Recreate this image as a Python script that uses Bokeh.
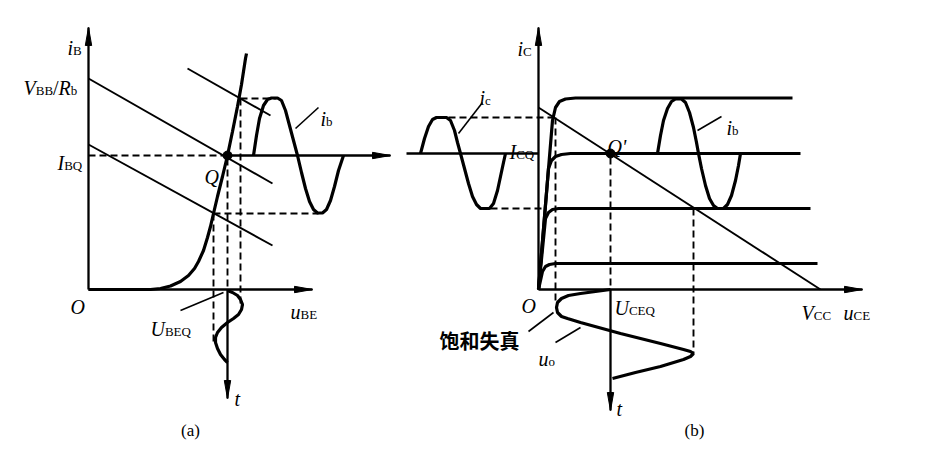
from bokeh.plotting import figure
from bokeh.models import Range1d
from bokeh.embed import file_html
from bokeh.resources import INLINE
from bokeh.core.properties import value

# ---------------- data (diagram coordinates, y grows downward) ----------------
# panel (a): input characteristic
a_axis_origin = (88, 289)
a_axis_top = 27
a_axis_right = 312
a_input_x = [88, 150, 160, 170, 180, 188, 194, 198, 203, 207, 210, 213, 217, 222, 227, 232, 237, 241, 245, 246]
a_input_y = [289, 289, 288, 285.5, 281, 275, 268, 261, 250, 237, 226, 213, 196, 176, 155, 131, 106, 84, 58, 53]
a_load_x0 = [88, 88, 187]
a_load_y0 = [78, 144, 68]
a_load_x1 = [272, 272, 270]
a_load_y1 = [183, 245, 115]
a_Q = (227, 155)
a_time_end = 390
a_t_end = 398
a_ib_x = [253, 256, 259, 263, 267, 271, 277, 281, 285, 289, 293, 297, 301, 305, 309, 313, 317, 322, 326, 330, 334, 338, 343]
a_ib_y = [155, 135, 118, 105, 99, 97.5, 97.5, 100, 110, 125, 140, 155, 172, 188, 201, 209, 212.5, 212.5, 209, 200, 186, 170, 155]
a_ube_x = [227, 232, 237, 240, 242, 241, 238, 233, 227, 221, 217, 215, 215, 217, 220, 224, 227]
a_ube_y = [290, 292, 295, 299, 304, 309, 314, 318, 322, 327, 332, 337, 342, 348, 354, 359, 362]
# dashed guides (a): horizontal (y, x0, x1), vertical (x, y0, y1)
a_hdash = [(155, 88, 224), (98, 240, 276), (213, 213, 318)]
a_vdash = [(227, 158, 289), (213, 213, 342), (240, 98, 305)]
a_leaders = [((295, 128), (318, 107)), ((180, 310), (223, 292))]

# panel (b): output characteristic
b_axis_origin = (538, 289)
b_axis_top = 27
b_axis_right = 862
b_curves_x = [
    [538, 552, 555, 559, 565, 575, 792],
    [538, 548, 551, 555, 561, 570, 800],
    [538, 545, 548, 552, 558, 810],
    [538, 542, 545, 549, 555, 817],
]
b_curves_y = [
    [289, 120, 107, 101, 98.5, 97.5, 97.5],
    [289, 168, 160, 156, 154, 153, 153],
    [289, 218, 212, 209, 208, 208],
    [289, 271, 266, 264, 263, 263],
]
b_load = ((538, 107), (820, 289))
b_Q = (610, 153)
b_icq_axis = (406, 538, 153)
b_t_end = 410
b_ic_x = [420, 424, 428, 432, 436, 446, 450, 454, 457, 460, 464, 468, 472, 476, 480, 489, 493, 497, 500, 503, 505]
b_ic_y = [153, 138, 126, 119, 117, 117, 120, 130, 142, 153, 168, 183, 196, 204, 208, 208, 203, 190, 176, 162, 153]
b_ib_x = [657, 660, 663, 667, 671, 675, 681, 685, 689, 693, 696, 698, 701, 705, 709, 713, 717, 723, 727, 731, 735, 738, 740]
b_ib_y = [153, 135, 120, 108, 101, 98.5, 98.5, 102, 112, 127, 142, 153, 168, 185, 198, 205, 208, 208, 204, 195, 180, 165, 153]
b_uo_x = [610, 595, 580, 568, 561, 557, 556, 557, 561, 567, 580, 620, 660, 683, 690, 693, 690, 683, 660, 635, 612]
b_uo_y = [289, 291, 293, 295, 298, 302, 307, 312, 316, 318, 322, 333, 343, 349, 351, 353, 356, 359, 366, 372, 378]
b_hdash = [(117, 448, 555), (208, 490, 545)]
b_vdash = [(555, 117, 303), (610, 157, 289), (693, 208, 352)]
b_leaders = [((458, 133), (482, 102)), ((697, 130), (721, 116)),
             ((528, 331), (553, 312)), ((555, 342), (580, 327))]

# labels: (x, baseline y, [(text, kind)])  kind: m = italic main, s = subscript, r = upright main
labels = [
    (67, 47, [("i", "m"), ("B", "s")]),
    (23, 87, [("V", "m"), ("BB", "s"), ("/", "r"), ("R", "m"), ("b", "s")]),
    (57, 162, [("I", "m"), ("BQ", "s")]),
    (70, 306, [("O", "m")]),
    (290, 311, [("u", "m"), ("BE", "s")]),
    (150, 328, [("U", "m"), ("BEQ", "s")]),
    (204, 176, [("Q", "m")]),
    (320, 118, [("i", "m"), ("b", "s")]),
    (234, 398, [("t", "m")]),
    (517, 48, [("i", "m"), ("C", "s")]),
    (509, 151, [("I", "m"), ("CQ", "s")]),
    (607, 146, [("Q'", "m")]),
    (521, 305, [("O", "m")]),
    (614, 307, [("U", "m"), ("CEQ", "s")]),
    (801, 312, [("V", "m"), ("CC", "s")]),
    (843, 312, [("u", "m"), ("CE", "s")]),
    (479, 97, [("i", "m"), ("c", "s")]),
    (726, 127, [("i", "m"), ("b", "s")]),
    (538, 358, [("u", "m"), ("o", "s")]),
    (616, 408, [("t", "m")]),
]
cn_label = ("饱和失真", 479, 340)
panel_labels = [("(a)", 190, 430), ("(b)", 694, 430)]

# ---------------- drawing ----------------
p = figure(width=925, height=443, x_range=Range1d(0, 925), y_range=Range1d(443, 0),
           output_backend="svg", toolbar_location=None, min_border=0,
           x_axis_location=None, y_axis_location=None)
p.grid.visible = False
p.outline_line_color = None
p.background_fill_color = "white"
p.border_fill_color = "white"

K = "black"
AX_W = 2.3
CURVE_W = 3.2
THIN_W = 1.9
DASH_W = 1.9
DASH = "7 4"


def arrow_head(x0, y0, x1, y1, length=18, half=3.2):
    dx, dy = x1 - x0, y1 - y0
    n = (dx * dx + dy * dy) ** 0.5
    ux, uy = dx / n, dy / n
    bx, by = x1 - ux * length, y1 - uy * length
    px, py = -uy, ux
    p.patch([x1, bx + px * half, bx - px * half], [y1, by + py * half, by - py * half],
            fill_color=K, line_color=K, line_width=1)


def axis(x0, y0, x1, y1, head=True):
    p.line([x0, x1], [y0, y1], line_color=K, line_width=AX_W)
    if head:
        arrow_head(x0, y0, x1, y1)


# panel (a)
ox, oy = a_axis_origin
axis(ox, oy, ox, a_axis_top)
axis(ox, oy, a_axis_right, oy)
p.line(a_input_x, a_input_y, line_color=K, line_width=CURVE_W)
p.segment(x0=a_load_x0, y0=a_load_y0, x1=a_load_x1, y1=a_load_y1, line_color=K, line_width=THIN_W)
axis(a_Q[0], a_Q[1], a_time_end, a_Q[1])
axis(a_Q[0], oy, a_Q[0], a_t_end)
for y, xa, xb in a_hdash:
    p.line([xa, xb], [y, y], line_color=K, line_width=DASH_W, line_dash=DASH)
for x, ya, yb in a_vdash:
    p.line([x, x], [ya, yb], line_color=K, line_width=DASH_W, line_dash=DASH)
p.line(a_ib_x, a_ib_y, line_color=K, line_width=CURVE_W)
p.line(a_ube_x, a_ube_y, line_color=K, line_width=CURVE_W)
for (xa, ya), (xb, yb) in a_leaders:
    p.line([xa, xb], [ya, yb], line_color=K, line_width=1.6)
p.scatter([a_Q[0]], [a_Q[1]], size=9, color=K)

# panel (b)
ox, oy = b_axis_origin
axis(ox, oy, ox, b_axis_top)
axis(ox, oy, b_axis_right, oy)
for cx, cy in zip(b_curves_x, b_curves_y):
    p.line(cx, cy, line_color=K, line_width=CURVE_W)
(lx0, ly0), (lx1, ly1) = b_load
p.line([lx0, lx1], [ly0, ly1], line_color=K, line_width=THIN_W)
xa, xb, yy = b_icq_axis
p.line([xa, xb], [yy, yy], line_color=K, line_width=AX_W)
axis(b_Q[0], oy, b_Q[0], b_t_end)
for y, xa, xb in b_hdash:
    p.line([xa, xb], [y, y], line_color=K, line_width=DASH_W, line_dash=DASH)
for x, ya, yb in b_vdash:
    p.line([x, x], [ya, yb], line_color=K, line_width=DASH_W, line_dash=DASH)
p.line(b_ic_x, b_ic_y, line_color=K, line_width=CURVE_W)
p.line(b_ib_x, b_ib_y, line_color=K, line_width=CURVE_W)
p.line(b_uo_x, b_uo_y, line_color=K, line_width=CURVE_W)
for (xa, ya), (xb, yb) in b_leaders:
    p.line([xa, xb], [ya, yb], line_color=K, line_width=1.6)
p.scatter([b_Q[0]], [b_Q[1]], size=9, color=K)

# text
W_IT = {'i': 278, 'u': 500, 't': 278, 'V': 611, 'R': 611, 'I': 333, 'U': 722, 'Q': 722, 'O': 722, "'": 214}
W_RM = {'B': 667, 'E': 611, 'Q': 722, 'C': 667, 'b': 500, 'c': 444, 'o': 500, '/': 278}
SERIF = value("Liberation Serif")


def put_label(x, y, segs):
    cx = x
    for txt, kind in segs:
        if kind == "m":
            size, style, dy, table = 20, "italic", 0, W_IT
        elif kind == "s":
            size, style, dy, table = 13, "normal", 3, W_RM
        else:
            size, style, dy, table = 20, "normal", 0, W_RM
        p.text(x=[cx], y=[y + dy], text=[txt], text_font=SERIF, text_font_size=f"{size}px",
               text_font_style=style, text_baseline="alphabetic", text_align="left", text_color=K)
        cx += sum(table.get(c, 500) for c in txt) * size / 1000


for x, y, segs in labels:
    put_label(x, y, segs)

txt, x, y = cn_label
p.text(x=[x], y=[y], text=[txt], text_font=value("Noto Sans CJK SC"), text_font_size="20px",
       text_font_style="bold", text_align="center", text_baseline="middle", text_color=K)
for txt, x, y in panel_labels:
    p.text(x=[x], y=[y], text=[txt], text_font=SERIF, text_font_size="17px",
           text_align="center", text_baseline="alphabetic", text_color=K)

open("out.html", "w").write(file_html(p, INLINE))
